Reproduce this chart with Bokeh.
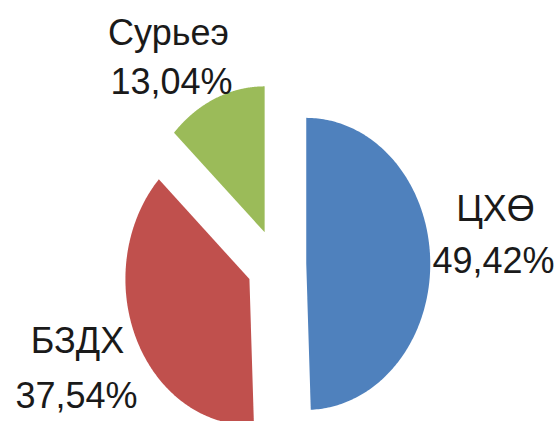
import numpy as np
from bokeh.plotting import figure
from bokeh.models import ColumnDataSource, Range1d
from bokeh.core.properties import value
from bokeh.embed import file_html
from bokeh.resources import INLINE

# ---- data ----
categories = ["ЦХӨ", "БЗДХ", "Сурьеэ"]
shares = [49.42, 37.54, 13.04]
colors = ["#4F81BD", "#C0504D", "#9BBB59"]

# ---- layout / styling ----
EXPLODE = 0.24
FONT = "Liberation Sans"
FONT_SIZE = "36px"
LABEL_SHIFT = 0.105  # vertical correction for text baseline, in radius units
# label anchors (line 1 and line 2 baselines), in pie-radius units
label_pos = {
    "ЦХӨ": ((1.766, 0.281), (1.75, -0.075)),
    "БЗДХ": ((-1.605, -0.623), (-1.613, -1.0)),
    "Сурьеэ": ((-0.871, 1.486), (-0.847, 1.151)),
}

W, H = 559, 421
RX, RY = 124.0, 146.0   # pixels per radius unit (horizontal, vertical)
CX, CY = 276.0, 264.0   # pie centre in plot pixels (from top-left)

p = figure(width=W, height=H, output_backend="svg", toolbar_location=None,
           min_border=0, x_range=Range1d(-CX / RX, (W - CX) / RX),
           y_range=Range1d(-(H - CY) / RY, CY / RY))
p.axis.visible = False
p.grid.visible = False
p.outline_line_color = None
p.background_fill_color = "white"
p.border_fill_color = "white"

total = sum(shares)
xs, ys = [], []
start = 0.0
for s in shares:
    a0 = start / total * 2 * np.pi
    a1 = (start + s) / total * 2 * np.pi
    mid = (a0 + a1) / 2
    ox, oy = EXPLODE * np.sin(mid), EXPLODE * np.cos(mid)
    t = np.linspace(a0, a1, 200)
    px = np.concatenate([[ox], ox + np.sin(t), [ox]])
    py = np.concatenate([[oy], oy + np.cos(t), [oy]])
    xs.append(list(px))
    ys.append(list(py))
    start += s

src = ColumnDataSource(dict(xs=xs, ys=ys, color=colors))
p.patches("xs", "ys", source=src, fill_color="color", line_color=None)

tx, ty, tt = [], [], []
for c, s in zip(categories, shares):
    (x1, y1), (x2, y2) = label_pos[c]
    tx += [x1, x2]
    ty += [y1 + LABEL_SHIFT, y2 + LABEL_SHIFT]
    tt += [c, f"{s:.2f}".replace(".", ",") + "%"]

tsrc = ColumnDataSource(dict(x=tx, y=ty, text=tt))
p.text("x", "y", text="text", source=tsrc, text_font=value(FONT),
       text_font_size=value(FONT_SIZE), text_align="center",
       text_baseline="alphabetic", text_color="#1a1a1a")

open("out.html", "w").write(file_html(p, INLINE))
